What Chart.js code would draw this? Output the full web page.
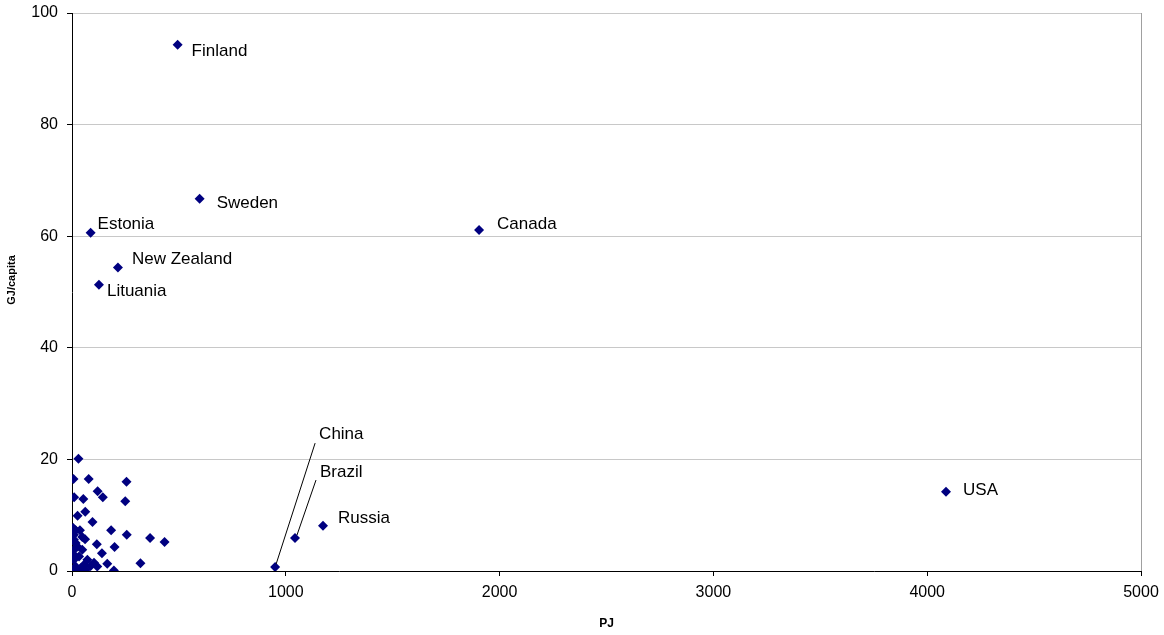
<!DOCTYPE html>
<html>
<head>
<meta charset="utf-8">
<script src="https://cdn.jsdelivr.net/npm/chart.js@4/dist/chart.umd.min.js"></script>
<style>
  html, body { margin: 0; padding: 0; background: #fff; }
  #wrap { width: 1164px; height: 635px; }
</style>
</head>
<body>
<div id="wrap"><canvas id="chart" width="1164" height="635"></canvas></div>
<script>
// named countries
var countryNames = ['Finland', 'Sweden', 'Estonia', 'New Zealand', 'Lituania', 'Canada', 'USA', 'China', 'Brazil', 'Russia'];
var countryPJ = [494, 597, 87, 215, 126, 1904, 4088, 950, 1043, 1174];
var countryGJ = [94.3, 66.7, 60.6, 54.4, 51.3, 61.1, 14.2, 0.7, 5.9, 8.1];

// other countries (unlabelled)
var otherPJ = [30, 7, 78, 255, 120, 144, 10, 53, 249, 62, 26, 96, 6, 37, 183, 256, 365, 433, 61, 116, 199, 140, 165, 320, 196,
    9, 9, 17, 25, 9, 48, 9, 33, 9, 72, 103, 56, 87, 17, 41, 118, 2, 25, 64, 0, 17, 48];
var otherGJ = [20.1, 16.5, 16.5, 16.0, 14.3, 13.2, 13.2, 12.9, 12.5, 10.6, 9.9, 8.8, 7.7, 7.3, 7.3, 6.5, 5.9, 5.2, 5.7, 4.8, 4.3, 3.2, 1.3, 1.4, 0.1,
    6.5, 5.6, 5.0, 4.4, 3.8, 3.8, 2.9, 2.6, 2.0, 2.0, 1.5, 1.1, 0.9, 0.8, 0.5, 0.8, 0.2, 0.1, 0.2, 0.0, 7.3, 6.1];

var xTicks = [0, 1000, 2000, 3000, 4000, 5000];
var yTicks = [0, 20, 40, 60, 80, 100];

// label placement in px relative to the marker
var labelOffsets = {
    'Finland': [14, 7], 'Sweden': [17, 4], 'Estonia': [7, -9], 'New Zealand': [14, -8],
    'Lituania': [8, 7], 'Canada': [18, -6], 'USA': [17, -1], 'Russia': [15, -7],
    'China': [44, -133], 'Brazil': [25, -66]
};
var leaderLines = {
    'China': [[1, -3], [40, -124]],
    'Brazil': [[2, -3], [21, -58]]
};

var points = [];
for (var i = 0; i < countryPJ.length; i++) points.push({ x: countryPJ[i], y: countryGJ[i] });
for (var j = 0; j < otherPJ.length; j++) points.push({ x: otherPJ[j], y: otherGJ[j] });

var countryLabels = {
    id: 'countryLabels',
    beforeDatasetsDraw: function(chart) {
        var ctx = chart.ctx, a = chart.chartArea;
        ctx.save();
        // right frame line
        ctx.strokeStyle = '#a0a0a0';
        ctx.lineWidth = 1;
        ctx.beginPath();
        ctx.moveTo(a.right + 0.5, a.top);
        ctx.lineTo(a.right + 0.5, a.bottom);
        ctx.stroke();
        // y axis title
        ctx.translate(12, 280);
        ctx.rotate(-Math.PI / 2);
        ctx.font = 'bold 11px "Liberation Sans", Arial, sans-serif';
        ctx.fillStyle = '#000';
        ctx.textAlign = 'center';
        ctx.textBaseline = 'middle';
        ctx.fillText('GJ/capita', 0, 0);
        ctx.restore();
    },
    afterDatasetsDraw: function(chart) {
        var ctx = chart.ctx;
        var xs = chart.scales.x, ys = chart.scales.y;
        ctx.save();
        ctx.font = '17px "Liberation Sans", Arial, sans-serif';
        ctx.fillStyle = '#000';
        ctx.textAlign = 'left';
        ctx.textBaseline = 'middle';
        ctx.strokeStyle = '#000';
        ctx.lineWidth = 1;
        for (var i = 0; i < countryNames.length; i++) {
            var name = countryNames[i];
            var px = xs.getPixelForValue(countryPJ[i]);
            var py = ys.getPixelForValue(countryGJ[i]);
            var off = labelOffsets[name];
            ctx.fillText(name, px + off[0], py + off[1]);
            var ln = leaderLines[name];
            if (ln) {
                ctx.beginPath();
                ctx.moveTo(px + ln[0][0], py + ln[0][1]);
                ctx.lineTo(px + ln[1][0], py + ln[1][1]);
                ctx.stroke();
            }
        }
        ctx.restore();
    }
};

new Chart(document.getElementById('chart').getContext('2d'), {
    type: 'scatter',
    data: {
        datasets: [{
            data: points,
            pointStyle: 'rectRot',
            pointRadius: 5,
            pointHoverRadius: 5,
            backgroundColor: '#000080',
            borderColor: '#000080',
            borderWidth: 0
        }]
    },
    options: {
        responsive: false,
        animation: false,
        events: [],
        layout: { padding: { left: 0, right: 23, top: 13, bottom: 0 } },
        plugins: { legend: { display: false }, tooltip: { enabled: false } },
        scales: {
            x: {
                type: 'linear',
                min: 0, max: 5000,
                afterBuildTicks: function(s) { s.ticks = xTicks.map(function(v) { return { value: v }; }); },
                afterFit: function(s) { s.height = 64; s.paddingLeft = 0; s.paddingRight = 0; },
                grid: { drawOnChartArea: false, drawTicks: true, tickLength: 5, color: '#000' },
                border: { color: '#000', width: 1 },
                ticks: {
                    color: '#000', padding: 7, maxRotation: 0,
                    font: { family: '"Liberation Sans", Arial', size: 16 },
                    callback: function(v) { return String(v); }
                },
                title: { display: true, text: 'PJ', color: '#000', padding: { top: 8 }, font: { family: '"Liberation Sans", Arial', size: 12, weight: 'bold' } }
            },
            y: {
                type: 'linear',
                min: 0, max: 100,
                afterBuildTicks: function(s) { s.ticks = yTicks.map(function(v) { return { value: v }; }); },
                afterFit: function(s) { s.width = 72; s.paddingTop = 0; s.paddingBottom = 0; },
                grid: { color: '#c8c8c8', tickColor: '#000', drawTicks: true, tickLength: 5 },
                border: { color: '#000', width: 1 },
                ticks: {
                    color: '#000', padding: 9,
                    font: { family: '"Liberation Sans", Arial', size: 16 },
                    callback: function(v) { return String(v); }
                }
            }
        }
    },
    plugins: [countryLabels]
});
</script>
</body>
</html>
